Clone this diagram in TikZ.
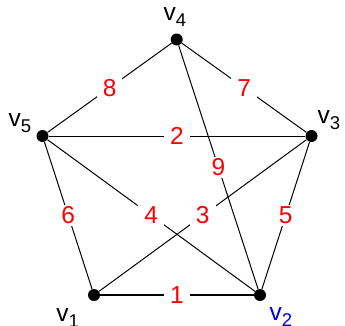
\documentclass[tikz,border=0pt]{standalone}
\usepackage{fontspec}
\setmainfont{Liberation Sans}
\newcommand\vlab[1]{v\raisebox{-6pt}{\fontsize{18.5}{18.5}\selectfont #1}}
\begin{document}
\begin{tikzpicture}[x=1pt,y=-1pt,
  vert/.style={circle,fill=black,inner sep=0pt,minimum size=12pt},
  edge/.style={line width=1pt,black},
  wlab/.style={fill=white,text=red,inner xsep=6pt,inner ysep=2pt,font=\fontsize{24.5}{24.5}\selectfont},
  vname/.style={anchor=base west,inner sep=0pt,font=\fontsize{24.5}{24.5}\selectfont}]
\useasboundingbox (0,0) rectangle (345,325);
\node[vert] (v4) at (176.7,39.5) {};
\node[vert] (v3) at (311.5,136) {};
\node[vert] (v2) at (260,295) {};
\node[vert] (v1) at (94,295) {};
\node[vert] (v5) at (42.5,136) {};
\draw[edge] (v4) -- (v5) node[wlab,midway] {8};
\draw[edge] (v4) -- (v3) node[wlab,midway] {7};
\draw[edge] (v5) -- (v3) node[wlab,midway] {2};
\draw[edge] (v4) -- (v2) node[wlab,midway] {9};
\draw[edge] (v5) -- (v1) node[wlab,midway] {6};
\draw[edge] (v5) -- (v2) node[wlab,midway] {4};
\draw[edge] (v1) -- (v3) node[wlab,midway] {3};
\draw[edge] (v3) -- (v2) node[wlab,midway] {5};
\draw[edge,line width=1.8pt] (v1) -- (v2) node[wlab,midway] {1};
\node[vname] (l4) at (163.5,20.7) {\vlab{4}};
\node[vname] (l5) at (8.5,126.7) {\vlab{5}};
\node[vname] (l3) at (317.5,123.3) {\vlab{3}};
\node[vname] (l1) at (56.2,321.7) {\vlab{1}};
\node[vname,text={rgb,255:red,0;green,0;blue,225}] (l2) at (269.5,320) {\vlab{2}};
\end{tikzpicture}
\end{document}
